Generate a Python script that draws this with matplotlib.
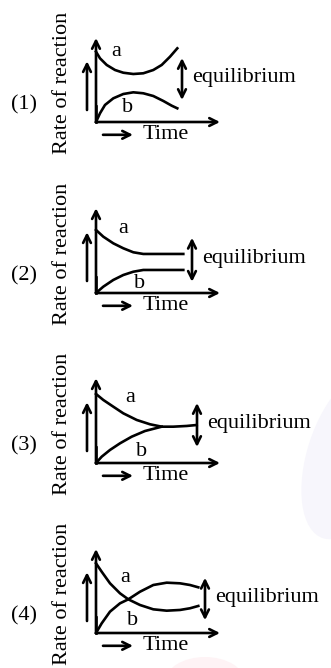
import matplotlib.pyplot as plt
from matplotlib.patches import Ellipse
import numpy as np

plt.rcParams['font.family'] = ['Liberation Serif', 'DejaVu Serif']

# panel labels
panels = ['(1)', '(2)', '(3)', '(4)']

# curve a (forward rate) and curve b (backward rate), time / rate in arbitrary units
a_t = [[0, .04, .107, .19, .273, .373, .473, .573, .657, .74, .813],
       [0, .073, .173, .273, .373, .473, .873],
       [0, .073, .173, .273, .407, .54, .657, .773, .907, 1.007],
       [0, .057, .14, .24, .323, .44, .573, .707, .84, .94, 1.023]]
a_r = [[.879, .796, .713, .65, .616, .60, .609, .65, .713, .816, .921],
       [.788, .704, .621, .559, .509, .488, .488],
       [.863, .788, .704, .621, .538, .484, .454, .454, .463, .475],
       [.871, .766, .621, .496, .421, .35, .296, .279, .288, .309, .338]]
b_t = [[0, .04, .09, .173, .273, .373, .473, .573, .673, .757, .813],
       [0, .073, .173, .273, .373, .473, .873],
       [0, .057, .14, .24, .357, .49, .657],
       [0, .057, .14, .24, .323, .44, .573, .707, .84, .94, 1.023]]
b_r = [[0, .109, .213, .296, .35, .371, .359, .325, .263, .204, .171],
       [0, .079, .163, .225, .266, .288, .288],
       [0, .079, .163, .246, .329, .40, .454],
       [0, .121, .267, .371, .421, .516, .60, .629, .621, .60, .571]]

# equilibrium arrow span (rate) and position (time)
eq_t = [.86, .96, 1.01, 1.09]
eq_lo = [.275, .14, .20, .16]
eq_hi = [.80, .69, .75, .69]
# letter positions
a_lab = [(.20, .875), (.27, .81), (.34, .825), (.29, .69)]
b_lab = [(.32, .175), (.44, .125), (.46, .14), (.37, .16)]
ax_top = [1.05, 1.06, 1.06, 1.05]

origins = [122, 293, 463, 633]   # pixel row of each panel origin
W, H = 331, 668

fig = plt.figure(figsize=(W / 100, H / 100), dpi=100)

# faint watermark shapes of the source page
bg = fig.add_axes([0, 0, 1, 1])
bg.set_xlim(0, W)
bg.set_ylim(H, 0)
bg.axis('off')
bg.add_patch(Ellipse((350, 455), 85, 175, angle=18, color='#f7f6fc', lw=0))
bg.add_patch(Ellipse((205, 682), 80, 50, color='#fef3f5', lw=0))

fs = 16
lw = 1.9
arr = dict(arrowstyle='->', lw=lw, color='black', mutation_scale=14, shrinkA=0, shrinkB=0)
arr2 = dict(arrowstyle='<->', lw=lw, color='black', mutation_scale=14, shrinkA=0, shrinkB=0)

for i in range(4):
    oy = origins[i]
    ax = fig.add_axes([0, 1 - (oy + 45) / H, 1, 165 / H])
    ax.set_xlim(-0.96, 2.35)
    ax.set_ylim(-45 / 80, 120 / 80)
    ax.axis('off')

    # axes
    ax.annotate('', xy=(0, ax_top[i]), xytext=(0, 0), arrowprops=arr)
    ax.annotate('', xy=(1.24, 0), xytext=(0, 0), arrowprops=arr)
    ax.plot([0, 0], [0, 0.2], color='black', lw=lw)
    ax.annotate('', xy=(-0.09, 0.76), xytext=(-0.09, 0.15), arrowprops=arr)
    ax.annotate('', xy=(0.37, -0.16), xytext=(0.07, -0.16), arrowprops=arr)
    ax.text(0.47, -0.16, 'Time', fontsize=fs, va='center', ha='left')
    ax.text(-0.33, 0.49, 'Rate of reaction', fontsize=fs, rotation=90,
            va='center', ha='center')
    ax.text(-0.72, 0.21, panels[i], fontsize=fs, va='center', ha='center')

    ax.plot(a_t[i], a_r[i], color='black', lw=lw, solid_joinstyle='round')
    ax.plot(b_t[i], b_r[i], color='black', lw=lw, solid_joinstyle='round')
    ax.text(*a_lab[i], 'a', fontsize=fs, va='center', ha='center')
    ax.text(*b_lab[i], 'b', fontsize=fs, va='center', ha='center')

    ax.annotate('', xy=(eq_t[i], eq_hi[i]), xytext=(eq_t[i], eq_lo[i]), arrowprops=arr2)
    ax.text(eq_t[i] + 0.1, (eq_hi[i] + eq_lo[i]) / 2 + 0.02, 'equilibrium',
            fontsize=fs, va='center', ha='left')

fig.savefig('out.png', dpi=100)
